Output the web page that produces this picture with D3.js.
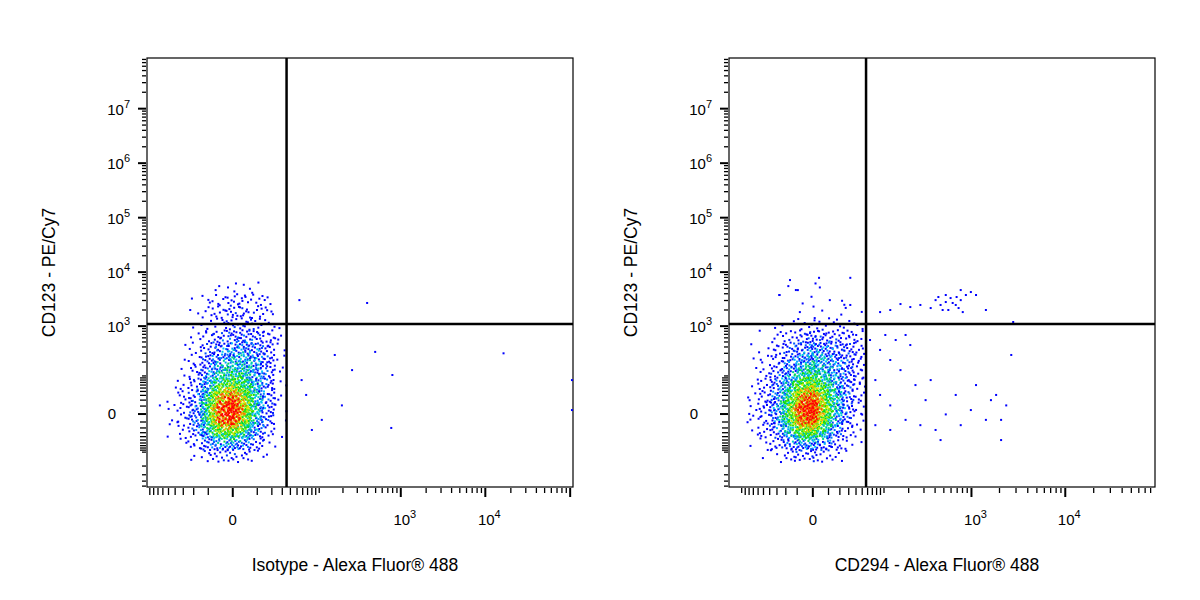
<!DOCTYPE html>
<html><head><meta charset="utf-8">
<script src="https://cdn.jsdelivr.net/npm/d3@7"></script>
<style>body{margin:0;background:#fff}svg{font-family:"Liberation Sans",Arial,sans-serif}</style>
</head><body><svg id="c" width="1200" height="600"></svg>
<script>
// ---- data ----
const yLabel = "CD123 - PE/Cy7";
const xLabels = ["Isotype - Alexa Fluor® 488", "CD294 - Alexa Fluor® 488"];
const xTickExp = [3, 4];
const yTickExp = [3, 4, 5, 6, 7];
const yEdges = [6550, 3940, 2360, 1410, 840, 500, 290, 165, 90, 44, 16, 0, -16, -44, -90, -165]; // top to bottom
const xEdges1 = [-52, -38, -25, -15, -8, -2, 2, 7, 14, 23, 35];
const xEdges2 = [-86, -60, -40, -24, -12, -3, 3, 12, 24, 38, 55];
const counts1 = [
 [0,0,0,0,2,3,2,2,0,0],
 [0,0,1,3,6,8,7,5,3,0],
 [0,0,1,4,8,10,9,7,4,0],
 [0,0,1,3,6,8,8,6,4,1],
 [0,0,2,6,12,15,15,12,8,2],
 [0,1,3,10,18,22,22,18,10,2],
 [0,1,5,14,24,28,28,22,12,2],
 [0,2,7,18,30,35,32,24,12,2],
 [1,3,10,24,40,45,38,26,12,2],
 [1,5,14,32,55,60,48,30,12,2],
 [2,6,16,36,62,68,52,30,12,2],
 [2,6,16,36,60,64,48,28,10,1],
 [1,4,12,28,46,48,36,20,6,1],
 [0,2,6,14,24,26,18,10,3,0],
 [0,0,2,5,8,9,6,3,1,0]];
const counts2 = [
 [0,0,0,1,1,1,1,0,0,0],
 [0,0,0,0,1,1,0,1,1,0],
 [0,0,0,0,0,1,1,1,1,1],
 [0,0,1,2,3,4,4,3,3,2],
 [0,1,3,6,10,12,12,10,8,4],
 [1,2,6,12,18,22,20,16,12,6],
 [1,3,8,16,24,28,26,20,14,6],
 [1,4,12,22,32,36,30,22,14,6],
 [2,6,16,30,44,46,38,26,14,6],
 [3,8,20,38,56,60,46,30,14,5],
 [3,9,22,42,64,66,50,30,12,4],
 [3,8,20,40,60,62,46,26,10,3],
 [2,6,14,30,46,46,34,18,6,2],
 [1,3,8,16,24,24,18,10,3,1],
 [0,1,3,6,9,9,6,4,1,0]];
const outliers1 = [[54,3050],[395,2700],[158,278],[494,320],[259,135],[794,105],[16400,300],[105000,80],[105000,4.6],[770,-20],[194,11],[108,-7],[67,31],[80,-24],[58,80],[-66,11],[-23,2000]];
const outliers2 = [
 [405,3050],[460,2480],[525,2810],[593,3330],[675,2480],[560,2000],[765,3050],[870,3790],[435,3480],[485,2000],[625,2700],[725,2175],[985,4300],[1120,3790],[357,2175],[273,2480],[209,2270],[160,2580],[120,2000],[89,1830],[1430,2000],[765,4680],[525,3790],[690,3480],[805,1830],
 [-27,3790],[-16,7150],[3.5,7860],[32,7860],[-11,4680],[-27,3790],[11,3050],[32,2480],[-8,1830],[1,1415],
 [65,545],[89,350],[120,220],[104,680],[140,545],[184,680],[160,135],[209,436],[89,31],[120,11],[184,-7],[240,60],[313,20],[357,80],[405,-24],[525,-0.4],[675,31],[765,-15],[985,4.6],[1120,60],[1430,-7],[1620,20],[1840,31],[2360,11],[2080,-7],[2670,278],[2080,-50],[460,-50],[273,-15],[120,-24],[77,-15],[77,80],[2800,1195]];
const quad = [{xg:35, yg:1100},{xg:57, yg:1100}];
const xDomains = [[-98, 108000],[-144, 89000]];
const xConst = [10.6, 21.5];
const yDomain = [-520, 85000000];
const yConst = 25;

// ---- drawing ----
const svg = d3.select("#c");
const panels = [{x0:147,x1:573,edges:xEdges1,counts:counts1,out:outliers1},
                {x0:729,x1:1155,edges:xEdges2,counts:counts2,out:outliers2}];
const yTop = 58, yBot = 487;
const y = d3.scaleSymlog().constant(yConst).domain(yDomain).range([yBot, yTop]);
const colr = d3.scaleLinear().domain([0,16,30,44,56,68]).range(["#0000ff","#0000ff","#00c8ff","#00dd00","#eeee00","#ff0000"]).clamp(true);
function halton(i,b){let f=1,r=0;while(i>0){f/=b;r+=f*(i%b);i=Math.floor(i/b);}return r;}

panels.forEach((p,pi)=>{
  const x = d3.scaleSymlog().constant(xConst[pi]).domain(xDomains[pi]).range([p.x0, p.x1]);
  const g = svg.append("g");
  g.append("rect").attr("x",p.x0).attr("y",yTop).attr("width",p.x1-p.x0).attr("height",yBot-yTop).attr("fill","none").attr("stroke","#000").attr("stroke-width",1.2);
  const dots=[];
  const nR=p.counts.length, nC=p.counts[0].length;
  const cval=(r,c)=>{r=Math.max(0,Math.min(nR-1,r));c=Math.max(0,Math.min(nC-1,c));return p.counts[r][c];};
  let seq=1;
  p.counts.forEach((row,r)=>{
    const ya=y(yEdges[r]), yb=y(yEdges[r+1]);
    row.forEach((n,c)=>{
      const xa=x(p.edges[c]), xb=x(p.edges[c+1]);
      for(let k=0;k<n;k++){
        const u=halton(seq,2), v=halton(seq,3); seq++;
        const px=xa+u*(xb-xa), py=ya+v*(yb-ya);
        const fc=u-0.5, fr=v-0.5;
        const c2=c+(fc<0?-1:1), r2=r+(fr<0?-1:1);
        const a=Math.abs(fc), b=Math.abs(fr);
        const d=(1-a)*(1-b)*cval(r,c)+a*(1-b)*cval(r,c2)+(1-a)*b*cval(r2,c)+a*b*cval(r2,c2);
        const jitter=((seq*7)%5-2)*5;
        dots.push([px,py,colr(d+jitter)]);
      }
    });
  });
  p.out.forEach(o=>dots.push([x(o[0]),y(o[1]),"#0000ff"]));
  dots.sort((a,b)=>d3.color(a[2]).r-d3.color(b[2]).r);
  g.selectAll(".d").data(dots).join("rect").attr("x",d=>d[0]-1).attr("y",d=>d[1]-1).attr("width",2).attr("height",2).attr("fill",d=>d[2]);
  g.append("line").attr("x1",x(quad[pi].xg)).attr("x2",x(quad[pi].xg)).attr("y1",yTop).attr("y2",yBot).attr("stroke","#000").attr("stroke-width",2.5);
  g.append("line").attr("x1",p.x0).attr("x2",p.x1).attr("y1",y(quad[pi].yg)).attr("y2",y(quad[pi].yg)).attr("stroke","#000").attr("stroke-width",2.5);
  const yMinor=[], yMajor=[0];
  for(let k=1;k<=7;k++)for(let m=1;m<=9;m++){const v=m*Math.pow(10,k); if(v<yDomain[1]) (m===1&&k>=3?yMajor:yMinor).push(v);}
  for(let k=1;k<=2;k++)for(let m=1;m<=9;m++){const v=-m*Math.pow(10,k); if(v>yDomain[0]) yMinor.push(v);}
  yMinor.forEach(v=>g.append("line").attr("x1",p.x0-1).attr("x2",p.x0-(Math.abs(v)<100?7:5)).attr("y1",y(v)).attr("y2",y(v)).attr("stroke","#000").attr("stroke-width",1.3));
  yMajor.forEach(v=>g.append("line").attr("x1",p.x0-1).attr("x2",p.x0-9).attr("y1",y(v)).attr("y2",y(v)).attr("stroke","#000").attr("stroke-width",2));
  const xMinor=[], xMajor=[0];
  for(let k=1;k<=5;k++)for(let m=1;m<=9;m++){const v=m*Math.pow(10,k); if(v<xDomains[pi][1]) (m===1&&k>=3?xMajor:xMinor).push(v);}
  for(let k=1;k<=2;k++)for(let m=1;m<=9;m++){const v=-m*Math.pow(10,k); if(v>xDomains[pi][0]) xMinor.push(v);}
  xMinor.forEach(v=>g.append("line").attr("y1",yBot+1).attr("y2",yBot+(Math.abs(v)<100?8:6)).attr("x1",x(v)).attr("x2",x(v)).attr("stroke","#000").attr("stroke-width",1.3));
  xMajor.forEach(v=>g.append("line").attr("y1",yBot+1).attr("y2",yBot+10).attr("x1",x(v)).attr("x2",x(v)).attr("stroke","#000").attr("stroke-width",2));
  const fs=15;
  g.append("text").attr("x",x(0)).attr("y",yBot+38).attr("text-anchor","middle").attr("font-size",fs).text("0");
  xTickExp.forEach(e=>{const t=g.append("text").attr("x",x(Math.pow(10,e))+4).attr("y",yBot+38).attr("text-anchor","middle").attr("font-size",fs);
    t.append("tspan").text("10"); t.append("tspan").attr("dy",-7).attr("font-size",11).text(e);});
  g.append("text").attr("x",p.x0-35).attr("y",y(0)+5).attr("text-anchor","middle").attr("font-size",fs).text("0");
  yTickExp.forEach(e=>{const t=g.append("text").attr("x",p.x0-17).attr("y",y(Math.pow(10,e))+6).attr("text-anchor","end").attr("font-size",fs);
    t.append("tspan").text("10"); t.append("tspan").attr("dy",-7).attr("font-size",11).text(e);});
  g.append("text").attr("transform",`translate(${p.x0-92},${(yTop+yBot)/2}) rotate(-90)`).attr("text-anchor","middle").attr("font-size",17.5).text(yLabel);
  g.append("text").attr("x",(p.x0+p.x1)/2-5).attr("y",571).attr("text-anchor","middle").attr("font-size",17.5).text(xLabels[pi]);
});
</script></body></html>
